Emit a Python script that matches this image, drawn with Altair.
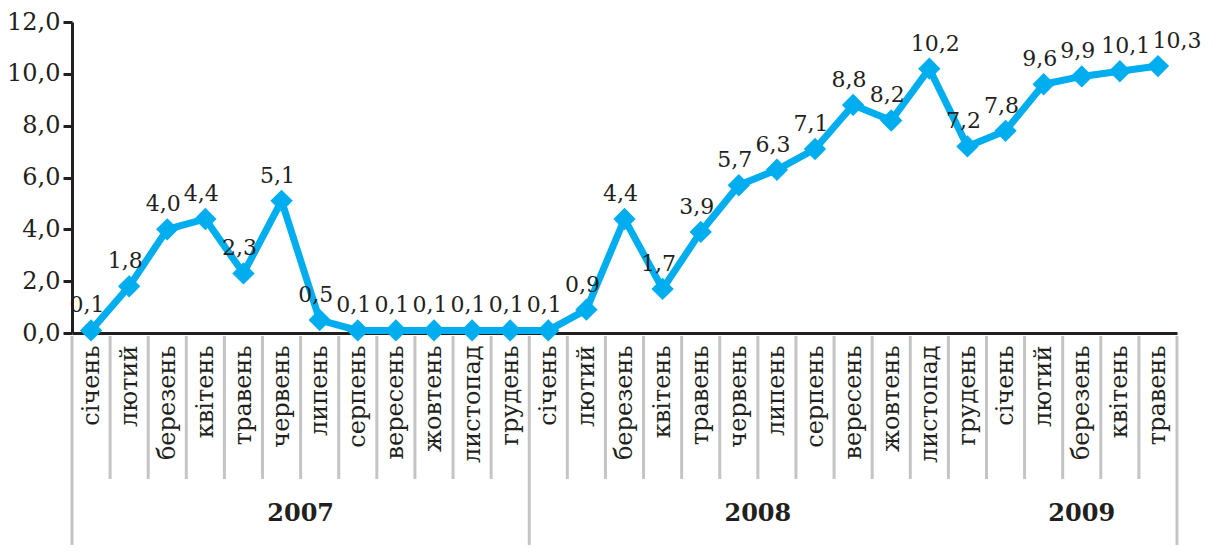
import altair as alt
import pandas as pd

months = ["січень", "лютий", "березень", "квітень", "травень", "червень",
          "липень", "серпень", "вересень", "жовтень", "листопад", "грудень",
          "січень", "лютий", "березень", "квітень", "травень", "червень",
          "липень", "серпень", "вересень", "жовтень", "листопад", "грудень",
          "січень", "лютий", "березень", "квітень", "травень"]
values = [0.1, 1.8, 4.0, 4.4, 2.3, 5.1, 0.5, 0.1, 0.1, 0.1, 0.1, 0.1,
          0.1, 0.9, 4.4, 1.7, 3.9, 5.7, 6.3, 7.1, 8.8, 8.2, 10.2, 7.2,
          7.8, 9.6, 9.9, 10.1, 10.3]
years = ["2007", "2008", "2009"]
year_start = [0, 12, 24]
year_len = [12, 12, 5]
long_bounds = [0, 12, 29]   # separators that run down through the year row
y_ticks = [0, 2, 4, 6, 8, 10, 12]

W, H = 1105, 311
FONT = "DejaVu Serif"
BLUE = "#00AEEF"
INK = "#231F20"
GREY = "#C4C4C6"
N = len(values)

df = pd.DataFrame({
    "i": list(range(N)),
    "v": values,
    "lab": [f"{v:.1f}".replace(".", ",") for v in values],
})

bounds = list(range(N + 1))
sep = pd.DataFrame({"i": [b - 0.5 for b in bounds],
                    "long": [b in long_bounds for b in bounds]})
yr = pd.DataFrame({"year": years,
                   "i": [s + (n - 1) / 2 for s, n in zip(year_start, year_len)]})

month_js = "[" + ",".join(f"'{m}'" for m in months) + "]"

xscale = alt.Scale(domain=[-0.5, N - 0.5], nice=False, zero=False)
x_axis = alt.Axis(values=list(range(N)),
                  labelExpr=f"{month_js}[datum.value]",
                  labelAngle=270, labelPadding=12, labelFontSize=24,
                  labelFont=FONT, labelColor=INK, ticks=False,
                  domainColor=INK, domainWidth=3, grid=False, title=None,
                  labelOverlap=False, labelBound=False, labelFlush=False)
x_enc = alt.X("i:Q", scale=xscale, axis=x_axis)

y_enc = alt.Y(
    "v:Q", scale=alt.Scale(domain=[0, 12], nice=False),
    axis=alt.Axis(values=y_ticks,
                  labelExpr="replace(format(datum.value, '.1f'), '.', ',')",
                  labelFontSize=24, labelFont=FONT, labelColor=INK,
                  tickSize=9, tickWidth=3, tickColor=INK,
                  domainColor=INK, domainWidth=3, grid=False, title=None,
                  labelPadding=3, labelFlush=False),
)

base = alt.Chart(df)
line = base.mark_line(color=BLUE, strokeWidth=7).encode(x=x_enc, y=y_enc)
pts = base.mark_point(shape="diamond", filled=True, size=500, color=BLUE,
                      opacity=1).encode(x=x_enc, y=y_enc)


def value_labels(cond, dx):
    return base.transform_filter(cond).mark_text(
        font=FONT, fontSize=22, color=INK, dy=-18, dx=dx,
        baseline="alphabetic").encode(x=x_enc, y=y_enc, text="lab:N")


labels_small = value_labels("datum.v < 10", -4)
labels_big = value_labels(f"datum.v >= 10 && datum.i < {N - 1}", 6)
labels_last = value_labels(f"datum.i == {N - 1}", 19)

short_sep = alt.Chart(sep).transform_filter("!datum.long").mark_rule(
    color=GREY, strokeWidth=3).encode(
    x=x_enc, y=alt.value(H + 3), y2=alt.value(H + 146))
long_sep = alt.Chart(sep).transform_filter("datum.long").mark_rule(
    color=GREY, strokeWidth=3).encode(
    x=x_enc, y=alt.value(H + 3), y2=alt.value(H + 232))
year_txt = alt.Chart(yr).mark_text(font=FONT, fontSize=24, fontWeight="bold",
                                   color=INK, baseline="middle").encode(
    x=x_enc, y=alt.value(H + 181), text="year:N")

chart = alt.layer(line, short_sep, long_sep, year_txt, pts, labels_small,
                  labels_big, labels_last).properties(
    width=W, height=H,
    autosize="none",
    padding={"left": 64, "top": 14, "right": 30, "bottom": 212},
).configure_view(stroke=None)

chart.save("out.html", embed_options={"renderer": "svg", "actions": False})
